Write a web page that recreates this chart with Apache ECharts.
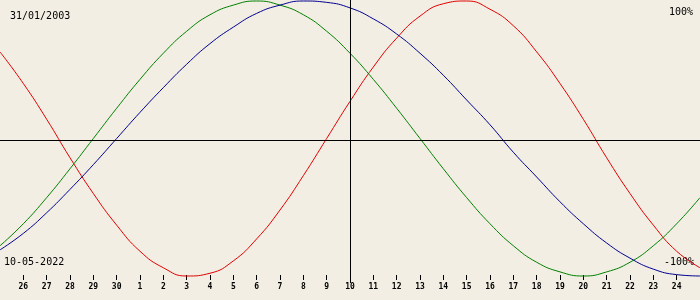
<!DOCTYPE html>
<html>
<head>
<meta charset="utf-8">
<script src="https://cdn.jsdelivr.net/npm/echarts@6/dist/echarts.min.js"></script>
<style>html,body{margin:0;padding:0;background:#f2eee3}#c{width:700px;height:300px}</style>
</head>
<body>
<div id="c"></div>
<script>
const days = ['25','26','27','28','29','30','1','2','3','4','5','6','7','8','9','10','11','12','13','14','15','16','17','18','19','20','21','22','23','24','25'];
const physical = [63,40,14,-14,-40,-63,-82,-94,-100,-98,-89,-73,-52,-27,0,27,52,73,89,98,100,94,82,63,40,14,-14,-40,-63,-82,-94];
const emotional = [-78,-62,-43,-22,0,22,43,62,78,90,97,100,97,90,78,62,43,22,0,-22,-43,-62,-78,-90,-97,-100,-97,-90,-78,-62,-43];
const intellectual = [-81,-69,-54,-37,-19,0,19,37,54,69,81,91,97,100,99,95,87,76,62,46,28,10,-10,-28,-46,-62,-76,-87,-95,-99,-100];
const birthDate = '31/01/2003';
const currentDate = '10-05-2022';
const topLabel = '100%';
const bottomLabel = '-100%';
const todayIndex = 15;

const chart = echarts.init(document.getElementById('c'), null, {renderer: 'canvas'});
const txt = {fontFamily: 'DejaVu Sans Mono', fontSize: 10, fill: '#000'};
const showTick = (i) => i > 0 && i < days.length - 1;
chart.setOption({
  backgroundColor: '#f2eee3',
  animation: false,
  grid: {left: 0, right: 0, top: 0, bottom: 17},
  xAxis: {
    type: 'category', data: days, boundaryGap: false, offset: -8,
    axisLine: {show: false, onZero: false},
    axisTick: {show: true, interval: showTick, length: 5, lineStyle: {color: '#000', width: 1}},
    axisLabel: {interval: showTick, margin: 8, fontSize: 8, fontWeight: 'bold', fontFamily: 'DejaVu Sans Mono', color: '#000'},
    splitLine: {show: false}
  },
  yAxis: {type: 'value', min: -105.09, max: 100.727, show: false, splitLine: {show: false}},
  series: [
    {
      type: 'line', data: physical, smooth: true, showSymbol: false, silent: true,
      lineStyle: {color: '#e00000', width: 1}, itemStyle: {color: '#e00000'},
      markLine: {
        silent: true, symbol: 'none', label: {show: false},
        lineStyle: {color: '#000', width: 1, type: 'solid'},
        data: [
          {yAxis: -1},
          {xAxis: todayIndex}
        ]
      }
    },
    {type: 'line', data: emotional, smooth: true, showSymbol: false, silent: true,
      lineStyle: {color: '#008000', width: 1}, itemStyle: {color: '#008000'}},
    {type: 'line', data: intellectual, smooth: true, showSymbol: false, silent: true,
      lineStyle: {color: '#000090', width: 1}, itemStyle: {color: '#000090'}}
  ],
  graphic: [
    {type: 'text', left: 10, top: 11, style: Object.assign({text: birthDate}, txt)},
    {type: 'text', right: 7, top: 7, style: Object.assign({text: topLabel}, txt)},
    {type: 'text', left: 4, top: 257, style: Object.assign({text: currentDate}, txt)},
    {type: 'text', right: 6, top: 257, style: Object.assign({text: bottomLabel}, txt)}
  ]
});
</script>
</body>
</html>
